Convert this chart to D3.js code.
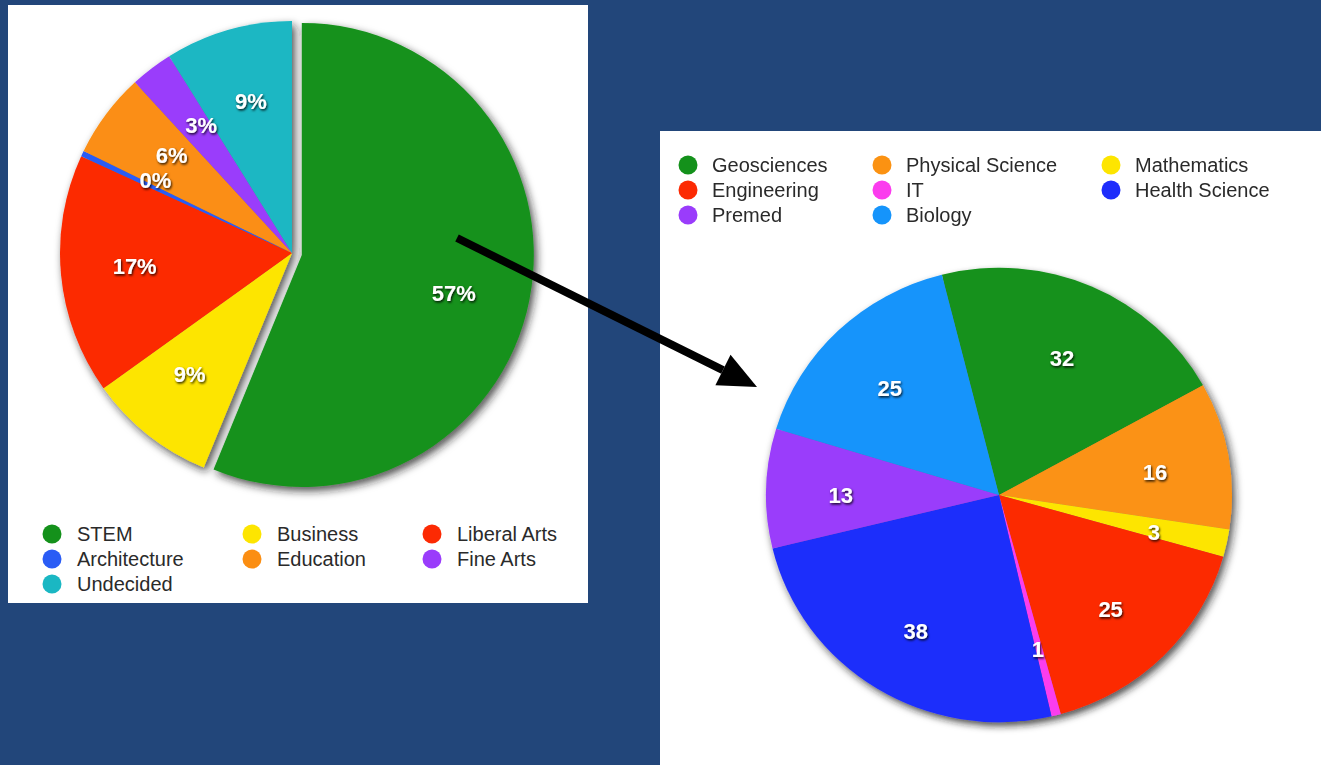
<!DOCTYPE html>
<html>
<head>
<meta charset="utf-8">
<script src="https://cdn.jsdelivr.net/npm/d3@7/dist/d3.min.js"></script>
<style>
  html, body { margin: 0; padding: 0; background: #22467a; }
  svg { display: block; }
  text { font-family: "Liberation Sans", Arial, Helvetica, sans-serif; }
</style>
</head>
<body>
<svg id="chart" width="1321" height="765"></svg>
<script>
// ---- Left chart data (majors) ----
const leftCategories = ["STEM", "Business", "Liberal Arts", "Architecture", "Education", "Fine Arts", "Undecided"];
const leftValues     = [57, 9, 17, 0.4, 6, 3, 9];
const leftLabels     = ["57%", "9%", "17%", "0%", "6%", "3%", "9%"];
const leftColors     = ["#14911b", "#fde500", "#fc2a03", "#2a5cf5", "#fb8e12", "#9a3cfb", "#1ab7c3"];
const leftLegendOrder = ["STEM", "Business", "Liberal Arts", "Architecture", "Education", "Fine Arts", "Undecided"];

// ---- Right chart data (STEM breakdown) ----
const rightCategories = ["Geosciences", "Physical Science", "Mathematics", "Engineering", "IT", "Health Science", "Premed", "Biology"];
const rightValues     = [32, 16, 3, 25, 1, 38, 13, 25];
const rightColors     = ["#14911b", "#fb9212", "#fde500", "#fc2a03", "#fb3cee", "#1e2dfb", "#9a3cfb", "#1594fb"];
const rightLegendOrder = ["Geosciences", "Physical Science", "Mathematics", "Engineering", "IT", "Health Science", "Premed", "Biology"];

const svg = d3.select("#chart");
const defs = svg.append("defs");

const sh = defs.append("filter").attr("id", "pieShadow")
  .attr("x", "-20%").attr("y", "-20%").attr("width", "140%").attr("height", "140%");
sh.append("feDropShadow").attr("dx", 3).attr("dy", 4).attr("stdDeviation", 4)
  .attr("flood-color", "#1a1a1a").attr("flood-opacity", 0.75);

const ts = defs.append("filter").attr("id", "textShadow")
  .attr("x", "-30%").attr("y", "-30%").attr("width", "160%").attr("height", "160%");
ts.append("feDropShadow").attr("dx", 1).attr("dy", 1.5).attr("stdDeviation", 1)
  .attr("flood-color", "#000").attr("flood-opacity", 0.85);

// ---- Panels ----
svg.append("rect").attr("x", 8).attr("y", 5).attr("width", 580).attr("height", 598).attr("fill", "#ffffff");
svg.append("rect").attr("x", 660).attr("y", 131).attr("width", 661).attr("height", 634).attr("fill", "#ffffff");

// ---- Left pie ----
const lcx = 292, lcy = 253, lr = 232;
const leftPie = d3.pie().sort(null).value(d => d.v)(leftCategories.map((c, i) => ({c, v: leftValues[i], i})));
const lArc = d3.arc().innerRadius(0).outerRadius(lr);
const lLabelArc = d3.arc().innerRadius(lr * 0.69).outerRadius(lr * 0.69);
const lg = svg.append("g").attr("transform", `translate(${lcx},${lcy})`);
const lSlices = lg.append("g").attr("filter", "url(#pieShadow)");
const explode = 10;
function offset(d, amt) {
  const a = (d.startAngle + d.endAngle) / 2;
  return [amt * Math.sin(a), -amt * Math.cos(a)];
}
// small nudges so crowded labels sit as in the reference
const leftLabelNudge = [[-5, 8], [-3, -4], [2, -2], [8, -4], [8, -2], [6, 0], [3, 2]];
lSlices.selectAll("path").data(leftPie).join("path")
  .attr("d", lArc)
  .attr("fill", d => leftColors[d.data.i])
  .attr("transform", d => d.data.i === 0 ? `translate(${offset(d, explode)})` : null);
lg.append("g").attr("filter", "url(#textShadow)").selectAll("text").data(leftPie).join("text")
  .attr("transform", d => {
    const c = lLabelArc.centroid(d);
    const o = d.data.i === 0 ? offset(d, explode) : [0, 0];
    const n = leftLabelNudge[d.data.i];
    return `translate(${c[0] + o[0] + n[0]},${c[1] + o[1] + n[1]})`;
  })
  .attr("text-anchor", "middle").attr("dominant-baseline", "central")
  .attr("fill", "#ffffff").attr("font-weight", "bold").attr("font-size", 22)
  .text(d => leftLabels[d.data.i]);

// ---- Left legend ----
const lLegCols = [52, 252, 432], lLegRows = [534, 559, 584];
const lLeg = svg.append("g");
leftLegendOrder.forEach((name, k) => {
  const i = leftCategories.indexOf(name);
  const x = lLegCols[k % 3], y = lLegRows[Math.floor(k / 3)];
  lLeg.append("circle").attr("cx", x).attr("cy", y).attr("r", 9.5).attr("fill", leftColors[i]);
  lLeg.append("text").attr("x", x + 25).attr("y", y).attr("dominant-baseline", "central")
    .attr("font-size", 20).attr("fill", "#2a2a2a").text(name);
});

// ---- Right pie ----
const rcx = 999, rcy = 495, rr = 233, ry = 0.975;
const rightPie = d3.pie().sort(null).value(d => d.v).startAngle(-14.2 * Math.PI / 180)
  .endAngle(-14.2 * Math.PI / 180 + 2 * Math.PI)(rightCategories.map((c, i) => ({c, v: rightValues[i], i})));
const rArc = d3.arc().innerRadius(0).outerRadius(rr);
const rLabelArc = d3.arc().innerRadius(rr * 0.68).outerRadius(rr * 0.68);
const rg = svg.append("g").attr("transform", `translate(${rcx},${rcy})`);
rg.append("g").attr("filter", "url(#pieShadow)").attr("transform", `scale(1,${ry})`)
  .selectAll("path").data(rightPie).join("path")
  .attr("d", rArc).attr("fill", d => rightColors[d.data.i]);
rg.append("g").attr("filter", "url(#textShadow)").selectAll("text").data(rightPie).join("text")
  .attr("transform", d => {
    const c = rLabelArc.centroid(d);
    return `translate(${c[0]},${c[1] * ry + 5})`;
  })
  .attr("text-anchor", "middle").attr("dominant-baseline", "central")
  .attr("fill", "#ffffff").attr("font-weight", "bold").attr("font-size", 22)
  .text(d => d.data.v);

// ---- Right legend ----
const rLegCols = [688, 882, 1111], rLegRows = [165, 190, 215];
const rLeg = svg.append("g");
const rightLegendLayout = [[0,0],[1,0],[2,0],[0,1],[1,1],[2,1],[0,2],[1,2]];
rightLegendOrder.forEach((name, k) => {
  const i = rightCategories.indexOf(name);
  const [col, row] = rightLegendLayout[k];
  const x = rLegCols[col], y = rLegRows[row];
  rLeg.append("circle").attr("cx", x).attr("cy", y).attr("r", 9.5).attr("fill", rightColors[i]);
  rLeg.append("text").attr("x", x + 24).attr("y", y).attr("dominant-baseline", "central")
    .attr("font-size", 20).attr("fill", "#2a2a2a").text(name);
});

// ---- Arrow ----
const x0 = 457, y0 = 238, x1 = 757, y1 = 387;
const ang = Math.atan2(y1 - y0, x1 - x0);
const headLen = 38, headHalf = 17;
const bx = x1 - headLen * Math.cos(ang), by = y1 - headLen * Math.sin(ang);
svg.append("line").attr("x1", x0).attr("y1", y0).attr("x2", bx).attr("y2", by)
  .attr("stroke", "#000").attr("stroke-width", 8);
svg.append("polygon").attr("fill", "#000").attr("points", [
  [x1, y1],
  [bx + headHalf * Math.sin(ang), by - headHalf * Math.cos(ang)],
  [bx - headHalf * Math.sin(ang), by + headHalf * Math.cos(ang)]
].map(p => p.join(",")).join(" "));
</script>
</body>
</html>
